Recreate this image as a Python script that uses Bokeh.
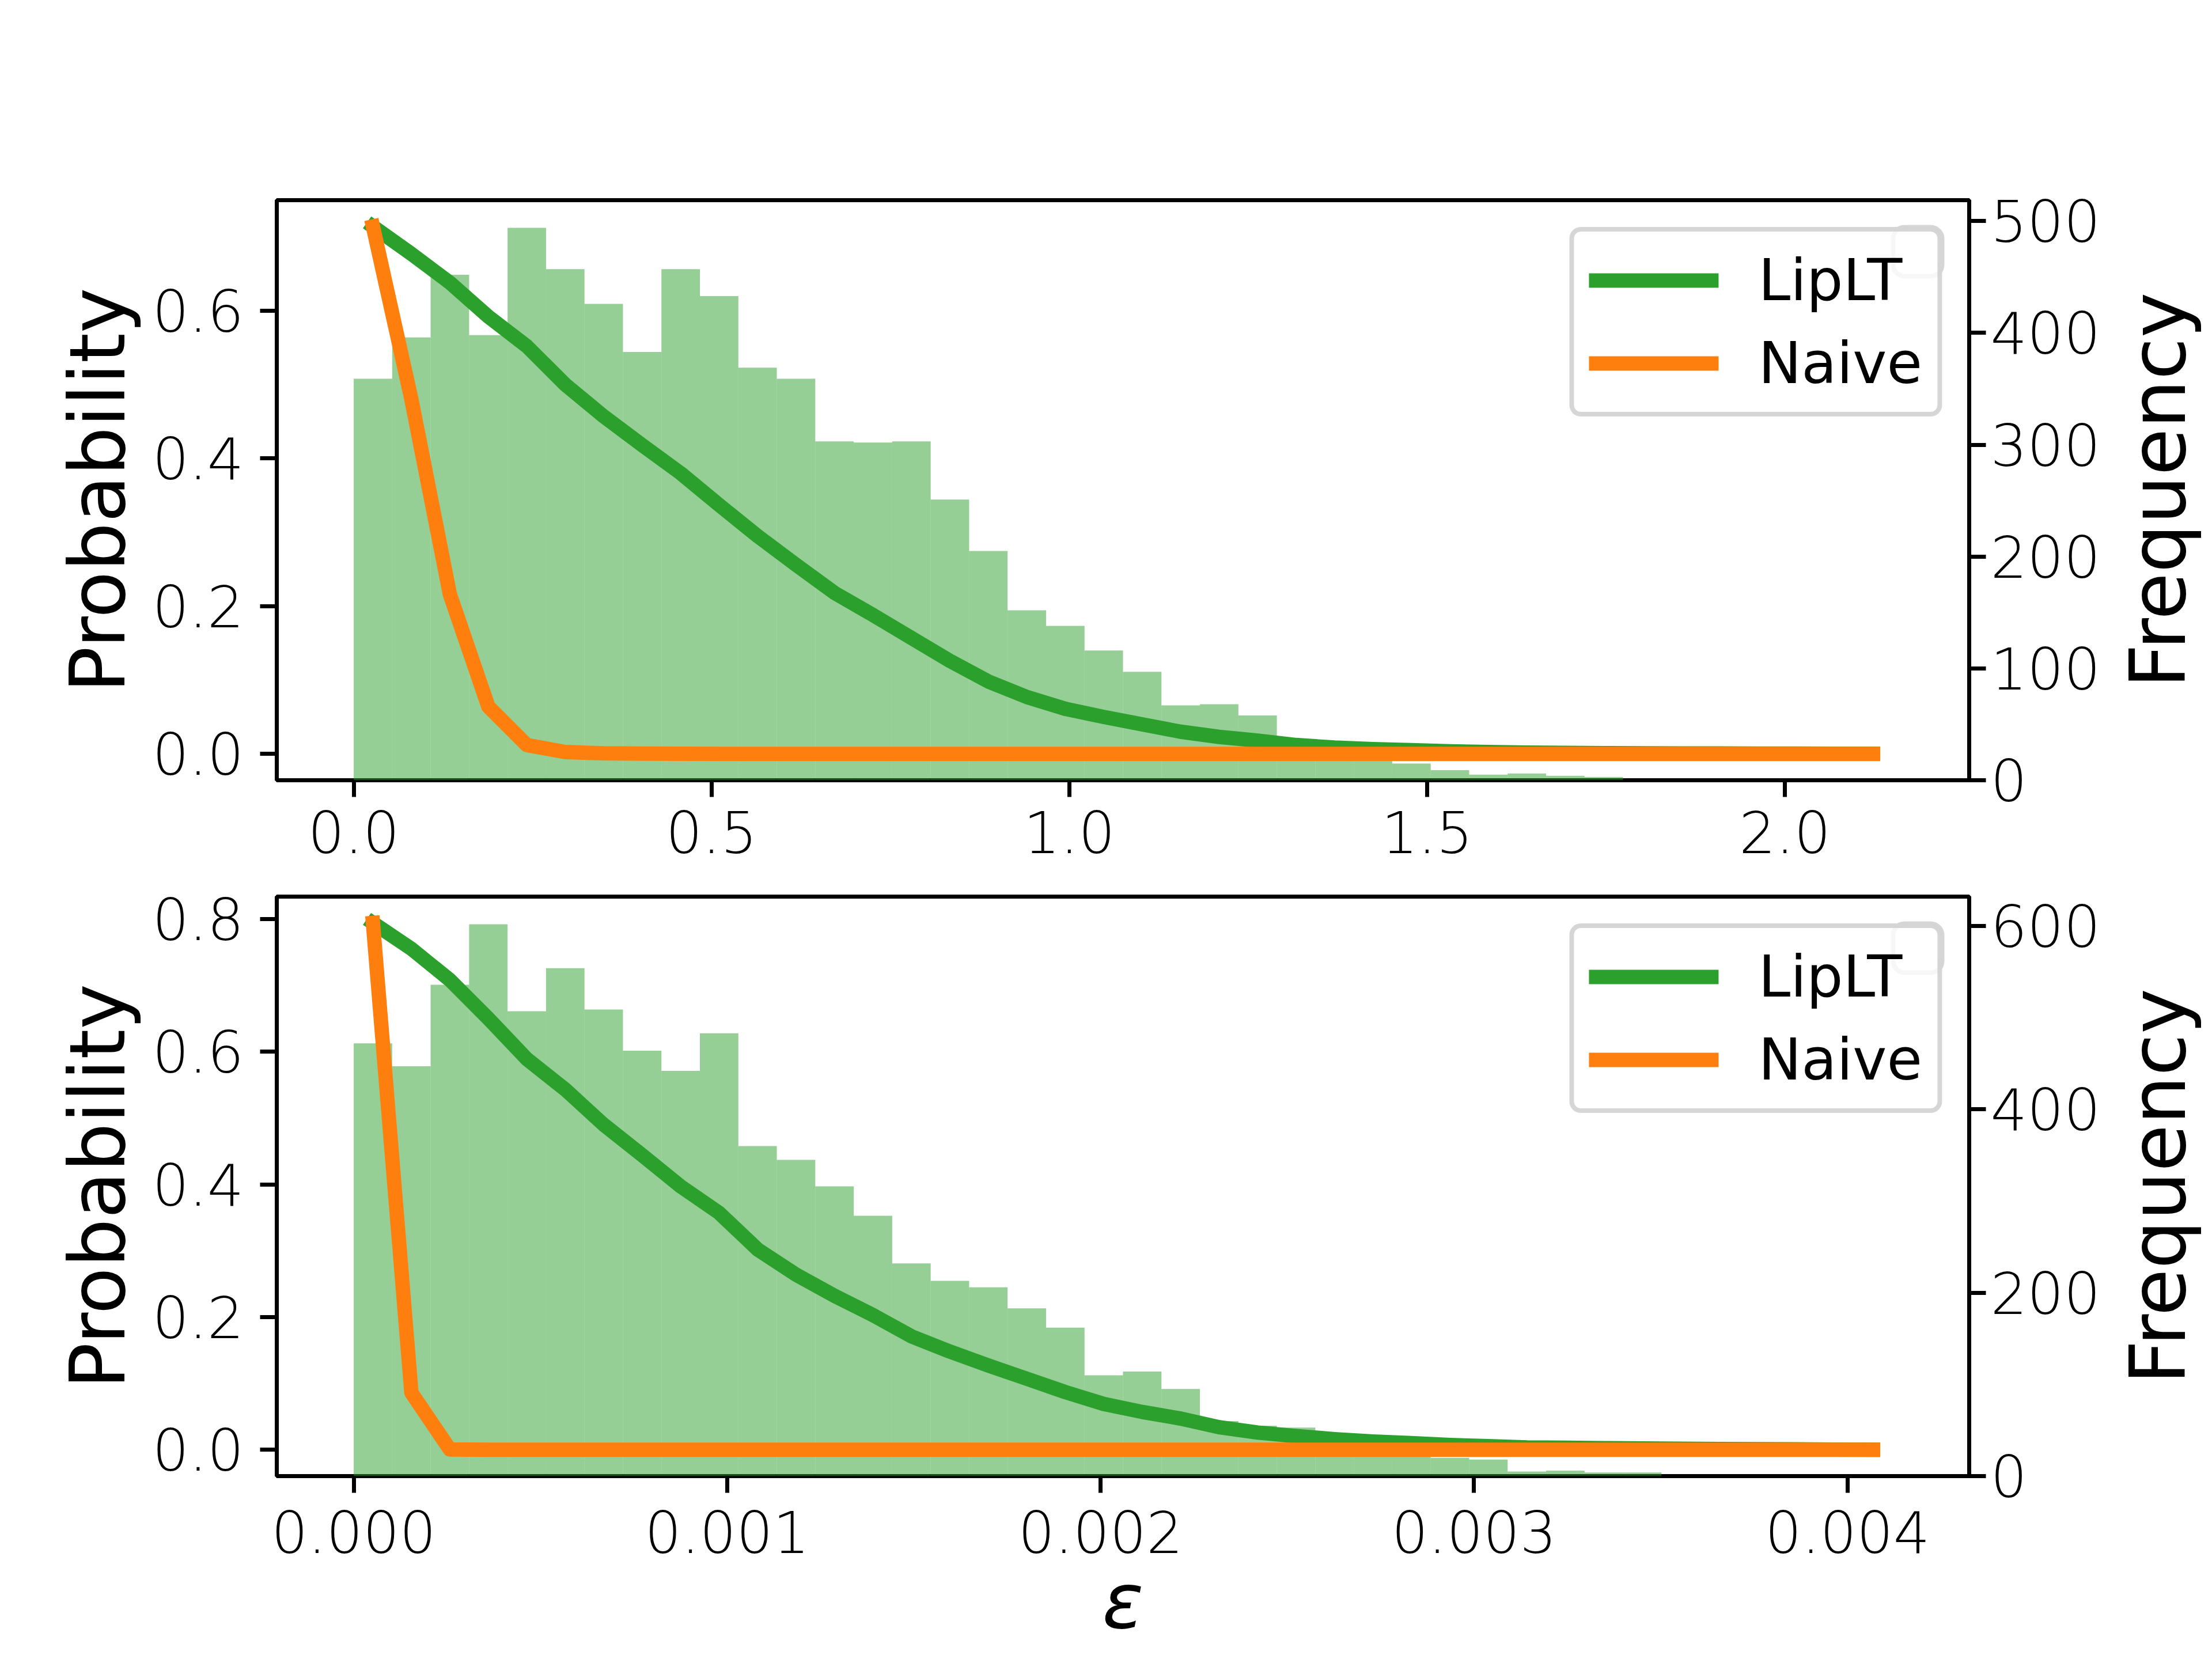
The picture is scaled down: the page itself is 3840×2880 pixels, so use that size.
import numpy as np
from bokeh.plotting import figure
from bokeh.models import (Range1d, LinearAxis, FixedTicker, PrintfTickFormatter,
                          Legend, LegendItem, BoxAnnotation)
from bokeh.layouts import column, row
from bokeh.embed import file_html
from bokeh.resources import INLINE
from bokeh.core.properties import value

# ---------------- data ----------------
top_eps_max = 2.15
top_counts = [359, 396, 452, 398, 494, 457, 426, 383, 457, 433,
              369, 359, 303, 302, 303, 251, 205, 152, 138, 116,
              97, 67, 68, 58, 35, 27, 20, 15, 9, 5,
              6, 4, 3, 0, 0, 0, 0, 0, 0, 0]
top_liplt = [0.714, 0.677, 0.638, 0.592, 0.552, 0.500, 0.457, 0.418, 0.380, 0.337,
             0.295, 0.256, 0.218, 0.188, 0.157, 0.126, 0.098, 0.077, 0.061, 0.050,
             0.040, 0.030, 0.023, 0.018, 0.012, 0.0085, 0.0065, 0.005, 0.0035, 0.0025,
             0.0018, 0.0013, 0.001, 0.0008, 0.0006, 0.0005, 0.0004, 0.0003, 0.0002, 0.0001]
top_naive = [0.714, 0.48, 0.216, 0.064, 0.012, 0.0025, 0.0008, 0.0003, 0.0001, 0.0,
             0.0, 0.0, 0.0, 0.0, 0.0, 0.0, 0.0, 0.0, 0.0, 0.0,
             0.0, 0.0, 0.0, 0.0, 0.0, 0.0, 0.0, 0.0, 0.0, 0.0,
             0.0, 0.0, 0.0, 0.0, 0.0, 0.0, 0.0, 0.0, 0.0, 0.0]

bot_eps_max = 0.00412
bot_counts = [472, 447, 536, 602, 507, 554, 509, 464, 442, 483,
              360, 345, 316, 284, 232, 213, 206, 183, 162, 110,
              114, 95, 60, 55, 53, 42, 35, 28, 20, 18,
              5, 6, 4, 4, 0, 0, 0, 0, 0, 0]
bot_liplt = [0.794, 0.755, 0.708, 0.650, 0.589, 0.543, 0.490, 0.444, 0.397, 0.357,
             0.302, 0.264, 0.232, 0.203, 0.171, 0.148, 0.127, 0.107, 0.087, 0.069,
             0.057, 0.047, 0.034, 0.026, 0.0207, 0.016, 0.0124, 0.010, 0.0072, 0.0055,
             0.0035, 0.003, 0.0024, 0.002, 0.0016, 0.0012, 0.0009, 0.0006, 0.0003, 0.0001]
bot_naive = [0.794, 0.086, 0.0005, 0.0, 0.0, 0.0, 0.0, 0.0, 0.0, 0.0,
             0.0, 0.0, 0.0, 0.0, 0.0, 0.0, 0.0, 0.0, 0.0, 0.0,
             0.0, 0.0, 0.0, 0.0, 0.0, 0.0, 0.0, 0.0, 0.0, 0.0,
             0.0, 0.0, 0.0, 0.0, 0.0, 0.0, 0.0, 0.0, 0.0, 0.0]

top_xticks = [0.0, 0.5, 1.0, 1.5, 2.0]
top_prob_ticks = [0.0, 0.2, 0.4, 0.6]
top_freq_ticks = [0, 100, 200, 300, 400, 500]
bot_xticks = [0.0, 0.001, 0.002, 0.003, 0.004]
bot_prob_ticks = [0.0, 0.2, 0.4, 0.6, 0.8]
bot_freq_ticks = [0, 200, 400, 600]

series_names = ["LipLT", "Naive"]
series_colors = ["#2ca02c", "#ff7f0e"]
hist_color = "#2ca02c"
freq_label = "Frequency"
prob_label = "Probability"
eps_label = "ε"

# ---------------- styling ----------------
FONT = "DejaVu Sans"
TICK_FS = "100px"
LABEL_FS = "133px"
SPINE_W = 7
TICK_LEN = 29
W = 3824
LABEL_COL_W = 156
PW = W - LABEL_COL_W
BORDER_L = 480
BORDER_R = 250
FRAME_W = PW - BORDER_L - BORDER_R


def style_axis(ax, standoff):
    ax.axis_line_color = None
    ax.major_tick_line_color = "black"
    ax.major_tick_line_width = SPINE_W
    ax.major_tick_out = TICK_LEN
    ax.major_tick_in = 0
    ax.minor_tick_out = 0
    ax.minor_tick_in = 0
    ax.major_label_text_font = FONT
    ax.major_label_text_font_size = TICK_FS
    ax.major_label_text_font_style = "normal"
    ax.major_label_text_color = "black"
    ax.major_label_standoff = standoff


def style_label(ax, text, standoff, italic=False):
    ax.axis_label = text
    ax.axis_label_text_font = FONT
    ax.axis_label_text_font_size = LABEL_FS
    ax.axis_label_text_font_style = "italic" if italic else "normal"
    ax.axis_label_text_color = "black"
    ax.axis_label_standoff = standoff


def panel(eps_max, counts, liplt, naive, xticks, xfmt, pticks, fticks,
          height, b_top, frame_h, x_standoff, xlabel):
    n = len(counts)
    edges = np.linspace(0.0, eps_max, n + 1)
    centers = (edges[:-1] + edges[1:]) / 2.0
    xpad = 0.05 * eps_max
    pmax = max(max(liplt), max(naive))
    ppad = 0.05 * pmax
    b_bot = height - b_top - frame_h
    p = figure(width=PW, height=height, output_backend="svg", toolbar_location=None,
               x_range=Range1d(-xpad, eps_max + xpad),
               y_range=Range1d(-ppad, pmax + ppad),
               min_border_left=BORDER_L, min_border_right=BORDER_R,
               min_border_top=b_top, min_border_bottom=b_bot)
    p.extra_y_ranges = {"freq": Range1d(0, 1.05 * max(counts))}
    p.xgrid.grid_line_color = None
    p.ygrid.grid_line_color = None
    p.outline_line_color = "black"
    p.outline_line_width = SPINE_W
    p.background_fill_color = "white"
    p.border_fill_color = "white"

    # x axis
    p.xaxis.ticker = FixedTicker(ticks=xticks)
    p.xaxis.formatter = PrintfTickFormatter(format=xfmt)
    style_axis(p.xaxis[0], x_standoff)
    if xlabel:
        style_label(p.xaxis[0], xlabel, 4, italic=True)
    # left axis
    p.yaxis.ticker = FixedTicker(ticks=pticks)
    p.yaxis.formatter = PrintfTickFormatter(format="%.1f")
    style_axis(p.yaxis[0], 28)
    style_label(p.yaxis[0], prob_label, 14)
    # right axis
    rax = LinearAxis(y_range_name="freq", ticker=FixedTicker(ticks=fticks),
                     formatter=PrintfTickFormatter(format="%d"))
    style_axis(rax, 8)
    p.add_layout(rax, "right")

    # histogram (frequency)
    p.quad(left=edges[:-1], right=edges[1:], top=counts, bottom=0,
           y_range_name="freq", fill_color=hist_color, fill_alpha=0.5,
           line_color=None)

    # faint empty legend box (from the twin axis) behind main legend
    ghost = BoxAnnotation(left=FRAME_W - 47 - 85, right=FRAME_W - 47,
                          top=frame_h - 47, bottom=frame_h - 47 - 85,
                          left_units="screen", right_units="screen",
                          top_units="screen", bottom_units="screen",
                          fill_color="white", fill_alpha=0.8,
                          line_color="#cccccc", line_alpha=0.8, line_width=8,
                          border_radius=20)
    p.add_layout(ghost)

    # probability curves
    rs = []
    for vals, col in zip([liplt, naive], series_colors):
        r = p.line(centers, vals, line_color=col, line_width=25,
                   line_cap="square", line_join="round")
        rs.append(r)

    legend = Legend(items=[LegendItem(label=nm, renderers=[r]) for nm, r in zip(series_names, rs)],
                    location="top_right", margin=47, padding=26, spacing=27,
                    glyph_width=225, glyph_height=99, label_height=99,
                    label_standoff=69, label_text_font=FONT,
                    label_text_font_size=TICK_FS, label_text_color="black",
                    border_line_color="#cccccc", border_line_alpha=0.8,
                    border_line_width=8, border_radius=20,
                    background_fill_color="white", background_fill_alpha=0.8)
    p.add_layout(legend, "center")

    # column holding the right-hand axis title, read bottom-to-top
    # (its frame is aligned with the panel's frame by the row layout)
    f = figure(width=LABEL_COL_W, height=height, output_backend="svg",
               toolbar_location=None, x_axis_type=None, y_axis_type=None,
               x_range=Range1d(0, 1), y_range=Range1d(0, 1),
               min_border=0)
    f.outline_line_color = None
    f.background_fill_color = "white"
    f.border_fill_color = "white"
    f.text(x=[0.5], y=[0.5], text=[freq_label],
           angle=np.pi / 2, text_align="center", text_baseline="middle",
           text_font=value(FONT), text_font_size=value(LABEL_FS), text_color="black")
    return row(p, f, spacing=0)


H1 = 1532
H2 = 2864 - H1
r1 = panel(top_eps_max, top_counts, top_liplt, top_naive, top_xticks, "%.1f",
           top_prob_ticks, top_freq_ticks, H1, 347, 1007, 24, None)
r2 = panel(bot_eps_max, bot_counts, bot_liplt, bot_naive, bot_xticks, "%.3f",
           bot_prob_ticks, bot_freq_ticks, H2, 24, 1006, 31, eps_label)

layout = column(r1, r2, spacing=0)
open("out.html", "w").write(file_html(layout, INLINE))
